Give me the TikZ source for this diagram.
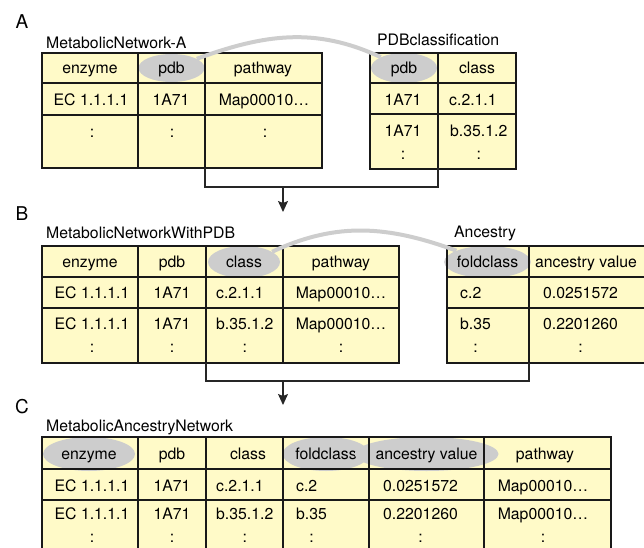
\documentclass[tikz,border=0pt]{standalone}
\usepackage{fontspec}
\setmainfont{TeX Gyre Heros}
\usetikzlibrary{arrows.meta, shapes.geometric}
\definecolor{cellyellow}{RGB}{255,250,200}
\definecolor{keygray}{RGB}{205,205,205}

\begin{document}
\begin{tikzpicture} [x=1pt, y=1pt,
  txt/.style={inner sep=0pt, text height=11.2pt, text depth=0pt, font=\fontsize{15.8}{24}\selectfont},
  txtt/.style={inner sep=0pt, align=center, font=\fontsize{15.8}{23}\selectfont},
  key/.style={ellipse, fill=keygray, inner sep=0pt, text height=11.2pt, text depth=0pt, font=\fontsize{15.8}{24}\selectfont},
  title/.style={inner sep=0pt, anchor=west, font=\fontsize{15.8}{18}\selectfont},
  panel/.style={inner sep=0pt, font=\fontsize{19}{22}\selectfont},
  tbl/.style={line width=1.3pt, draw=black!90},
  link/.style={line width=4pt, draw=keygray},
  flow/.style={line width=1.2pt, draw=black!85}]
\useasboundingbox (0,0) rectangle (644,547);

\fill[cellyellow] (42,379) rectangle (322,494);
\fill[cellyellow] (370,378) rectangle (516,494);
\fill[cellyellow] (42,184) rectangle (399,301);
\fill[cellyellow] (447,184) rectangle (644,301);
\fill[cellyellow] (42,-10) rectangle (611,110);

\path (22,525) node[panel] (labA) {A}
      (22,333) node[panel] (labB) {B}
      (22,140) node[panel] (labC) {C}
      (46,504) node[title] (ttlA) {MetabolicNetwork-A}
      (377,507) node[title] (ttlP) {PDBclassification}
      (46,314) node[title] (ttlB) {MetabolicNetworkWithPDB}
      (454,314) node[title] (ttlN) {Ancestry}
      (46,120) node[title] (ttlC) {MetabolicAncestryNetwork};

% table A
\path (90,479) node[txt] (a-enzyme) {enzyme}
      (171.5,479) node[key, minimum width=66pt, minimum height=28pt] (a-pdb) {pdb}
      (263,479) node[txt] (a-pathway) {pathway}
      (91,447) node[txt] (a-ec) {EC 1.1.1.1}
      (171,447) node[txt] (a-id) {1A71}
      (264,447) node[txt] (a-map) {Map00010…}
      (92,415.5) node[txt] (a-more1) {:}
      (172,415.5) node[txt] (a-more2) {:}
      (265,415.5) node[txt] (a-more3) {:};

% table PDBclassification
\path (404,479) node[key, minimum width=66pt, minimum height=30pt] (p-pdb) {pdb}
      (477,479) node[txt] (p-class) {class}
      (403,447) node[txt] (p-id1) {1A71}
      (449,447) node[txt, anchor=west] (p-cls1) {c.2.1.1}
      (403,405) node[txtt] (p-id2) {1A71\\:}
      (450,405) node[txtt, anchor=west] (p-cls2) {b.35.1.2\\:};

% table B
\path (90,285) node[txt] (b-enzyme) {enzyme}
      (172,285) node[txt] (b-pdb) {pdb}
      (244,285) node[key, minimum width=72pt, minimum height=32pt] (b-class) {class}
      (341,285) node[txt] (b-pathway) {pathway}
      (92,254) node[txt] (b-ec1) {EC 1.1.1.1}
      (172,254) node[txt] (b-id1) {1A71}
      (216,254) node[txt, anchor=west] (b-cls1) {c.2.1.1}
      (341,254) node[txt] (b-map1) {Map00010…}
      (92,212) node[txtt] (b-ec2) {EC 1.1.1.1\\:}
      (172,212) node[txtt] (b-id2) {1A71\\:}
      (216,212) node[txtt, anchor=west] (b-cls2) {b.35.1.2\\:}
      (341,212) node[txtt] (b-map2) {Map00010…\\:};

% table Ancestry
\path (487.5,285) node[key, minimum width=80pt, minimum height=32pt] (n-fold) {foldclass}
      (586,285) node[txt] (n-value) {ancestry value}
      (460,254) node[txt, anchor=west] (n-fold1) {c.2}
      (543,254) node[txt, anchor=west] (n-val1) {0.0251572}
      (460,212) node[txtt, anchor=west] (n-fold2) {b.35\\:}
      (543,212) node[txtt, anchor=west] (n-val2) {0.2201260\\:};

% table C
\path (89,93) node[key, minimum width=92pt, minimum height=34pt] (c-enzyme) {enzyme}
      (172,93) node[txt] (c-pdb) {pdb}
      (248,93) node[txt] (c-class) {class}
      (326,93) node[key, minimum width=82pt, minimum height=34pt] (c-fold) {foldclass}
      (426.5,93) node[key, minimum width=111pt, minimum height=34pt] (c-value) {ancestry value}
      (545,93) node[txt] (c-pathway) {pathway}
      (92,61) node[txt] (c-ec1) {EC 1.1.1.1}
      (172,61) node[txt] (c-id1) {1A71}
      (216,61) node[txt, anchor=west] (c-cls1) {c.2.1.1}
      (296,61) node[txt, anchor=west] (c-fold1) {c.2}
      (383,61) node[txt, anchor=west] (c-val1) {0.0251572}
      (543,61) node[txt] (c-map1) {Map00010…}
      (92,21.5) node[txtt] (c-ec2) {EC 1.1.1.1\\:}
      (172,21.5) node[txtt] (c-id2) {1A71\\:}
      (216,21.5) node[txtt, anchor=west] (c-cls2) {b.35.1.2\\:}
      (296,21.5) node[txtt, anchor=west] (c-fold2) {b.35\\:}
      (383,21.5) node[txtt, anchor=west] (c-val2) {0.2201260\\:}
      (543,21.5) node[txtt] (c-map2) {Map00010…\\:};

% cell rules
\draw[tbl] (42,379) rectangle (322,494) (42,464) -- (322,464) (42,432) -- (322,432)
           (138,379) -- (138,494) (205,379) -- (205,494);
\draw[tbl] (370,378) rectangle (516,494) (370,464) -- (516,464) (370,433) -- (516,433)
           (438,378) -- (438,494);
\draw[tbl] (42,184) rectangle (399,301) (42,270) -- (399,270) (42,239) -- (399,239)
           (138,184) -- (138,301) (206,184) -- (206,301) (283,184) -- (283,301);
\draw[tbl] (644,301) -- (447,301) -- (447,184) -- (644,184) (447,270) -- (644,270)
           (447,239) -- (644,239) (529,184) -- (529,301);
\draw[tbl] (42,-10) -- (42,110) -- (611,110) -- (611,-10) (42,78) -- (611,78) (42,47) -- (611,47)
           (138,-10) -- (138,110) (206,-10) -- (206,110) (283,-10) -- (283,110)
           (369,-10) -- (369,110) (484,-10) -- (484,110);

% join keys
\draw[link] (a-pdb.20) to[out=20, in=155] (p-pdb.155);
\draw[link] (b-class.20) to[out=25, in=160] (n-fold.160);

% joins into next table
\coordinate (aOut) at (205,379);
\coordinate (pOut) at (438,379);
\coordinate (jA) at (283,360);
\coordinate (tipA) at (283,335);
\draw[flow] (aOut) -- ++(0,-19) -| (pOut);
\draw[flow, -{Stealth[length=11pt, width=10pt, inset=2pt]}] (jA) -- (tipA);

\coordinate (bOut) at (206,184);
\coordinate (nOut) at (529,184);
\coordinate (jB) at (283,166);
\coordinate (tipB) at (283,142);
\draw[flow] (bOut) -- ++(0,-18) -| (nOut);
\draw[flow, -{Stealth[length=11pt, width=10pt, inset=2pt]}] (jB) -- (tipB);

\end{tikzpicture}
\end{document}
